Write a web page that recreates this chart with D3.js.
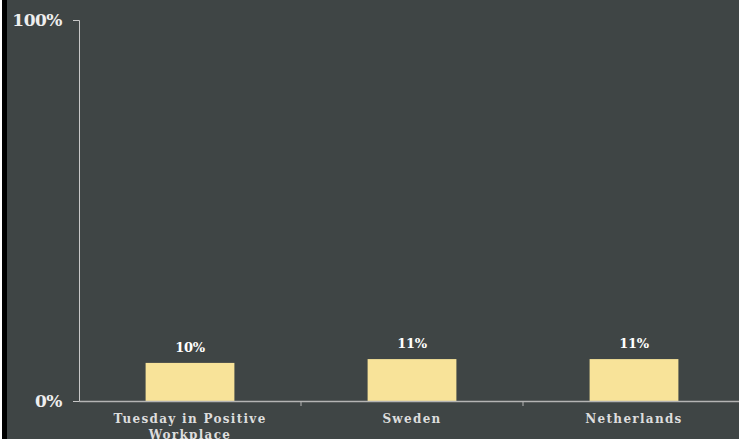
<!DOCTYPE html>
<html>
<head>
<meta charset="utf-8">
<script src="https://cdn.jsdelivr.net/npm/d3@7"></script>
<style>
  html, body { margin: 0; padding: 0; background: #fff; }
  svg { display: block; }
</style>
</head>
<body>
<svg id="chart" width="739" height="439"></svg>
<script>
  // values
  const categories = ["Tuesday in Positive Workplace", "Sweden", "Netherlands"];
  const values = [10, 11, 11];
  const yTicks = [0, 100];

  const width = 739;
  const height = 439;
  const margin = { top: 20, right: -6, bottom: 38, left: 79 };

  const svg = d3.select("#chart");

  // frame: thin white strip then black border on the left
  svg.append("rect").attr("width", width).attr("height", height).attr("fill", "#3f4545");
  svg.append("rect").attr("x", 0).attr("width", 2).attr("height", height).attr("fill", "#ffffff");
  svg.append("rect").attr("x", 2).attr("width", 5).attr("height", height).attr("fill", "#000000");

  const x = d3.scaleBand()
    .domain(categories)
    .range([margin.left, width - margin.right])
    .padding(0);

  const y = d3.scaleLinear()
    .domain([0, 100])
    .range([height - margin.bottom, margin.top]);

  const serif = "'DejaVu Serif', 'Liberation Serif', serif";

  // y axis
  const yAxis = svg.append("g")
    .attr("transform", `translate(${margin.left},0)`)
    .call(d3.axisLeft(y).tickValues(yTicks).tickSize(6).tickPadding(11).tickFormat(d => d + "%"));
  yAxis.select(".domain").attr("stroke", "#c8c8c8");
  yAxis.selectAll(".tick line").attr("stroke", "#c8c8c8");
  yAxis.selectAll(".tick text")
    .attr("fill", "#eeeeee")
    .style("font-family", serif)
    .style("font-weight", "bold")
    .style("font-size", "17px")
    .style("letter-spacing", "-0.5px")
    .attr("dy", "0.3em");

  // bars
  const barW = x.bandwidth() * 0.4;
  svg.selectAll(".bar")
    .data(values)
    .enter()
    .append("rect")
    .attr("class", "bar")
    .attr("x", (d, i) => x(categories[i]) + (x.bandwidth() - barW) / 2)
    .attr("y", d => y(d))
    .attr("width", barW)
    .attr("height", d => y(0) - y(d))
    .attr("fill", "#f8e399");

  // value labels
  svg.selectAll(".val")
    .data(values)
    .enter()
    .append("text")
    .attr("class", "val")
    .attr("x", (d, i) => x(categories[i]) + x.bandwidth() / 2)
    .attr("y", d => y(d) - 11)
    .attr("text-anchor", "middle")
    .attr("fill", "#ffffff")
    .style("font-family", serif)
    .style("font-weight", "bold")
    .style("font-size", "13px")
    .style("letter-spacing", "-0.3px")
    .text(d => d + "%");

  // x axis
  const xAxis = svg.append("g")
    .attr("transform", `translate(0,${y(0)})`)
    .call(d3.axisBottom(x).tickSize(0).tickFormat(""));
  xAxis.select(".domain").attr("stroke", "#b4b4b4").attr("stroke-width", 1.5);

  // boundary ticks between bands
  svg.selectAll(".btick")
    .data(categories.slice(1))
    .enter()
    .append("line")
    .attr("x1", d => x(d)).attr("x2", d => x(d))
    .attr("y1", y(0)).attr("y2", y(0) + 5)
    .attr("stroke", "#b4b4b4");

  // wrapped category labels
  const labelLines = d => d === "Tuesday in Positive Workplace" ? ["Tuesday in Positive", "Workplace"] : [d];
  const lbl = svg.selectAll(".cat")
    .data(categories)
    .enter()
    .append("text")
    .attr("class", "cat")
    .attr("x", d => x(d) + x.bandwidth() / 2)
    .attr("y", y(0) + 22)
    .attr("text-anchor", "middle")
    .attr("fill", "#dddddd")
    .style("font-family", serif)
    .style("font-weight", "bold")
    .style("font-size", "12px")
    .style("letter-spacing", "1.3px");
  lbl.each(function (d) {
    const t = d3.select(this);
    labelLines(d).forEach((line, i) => {
      t.append("tspan")
        .attr("x", x(d) + x.bandwidth() / 2)
        .attr("dy", i === 0 ? 0 : 16)
        .text(line);
    });
  });
</script>
</body>
</html>
